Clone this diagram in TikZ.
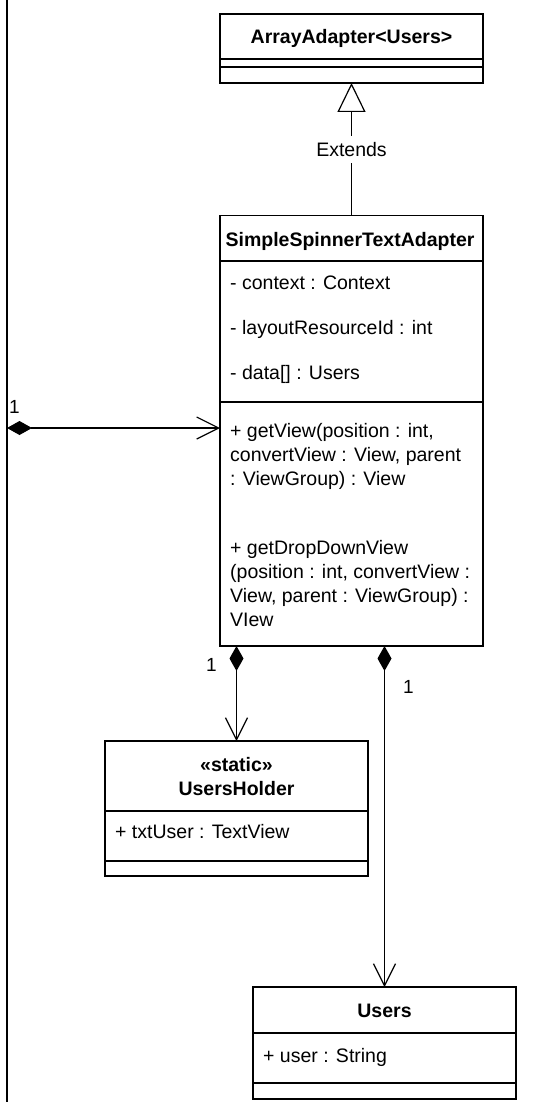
\documentclass[tikz,border=0pt]{standalone}
\usepackage{fontspec}
\setmainfont{Liberation Sans}
\usetikzlibrary{arrows.meta}
\begin{document}
\begin{tikzpicture}[x=1pt,y=-1pt,
  font=\fontsize{19.5}{24}\selectfont,
  classbox/.style={draw, line width=1.5pt, rectangle, inner sep=0pt, outer sep=0pt, anchor=north west},
  sep/.style={line width=1.5pt},
  title/.style={font=\fontsize{19.5}{24}\selectfont\bfseries, anchor=base, inner sep=0pt},
  member/.style={anchor=base west, inner sep=0pt},
  mult/.style={inner sep=0pt, font=\fontsize{19}{23}\selectfont},
  link/.style={line width=1.2pt},
  composite/.style={link, {Diamond[length=25pt,width=14pt]}-{Straight Barb[length=22pt,width=22pt,line width=1.2pt]}},
  extends/.style={link, -{Triangle[open,length=29pt,width=28pt,line width=1.2pt,fill=white]}},
]
\useasboundingbox (0,0) rectangle (549,1102);

% outer frame edge on the left
\draw[line width=1.6pt] (7,0) -- (7,1102);

% ArrayAdapter<Users>
\node[classbox, minimum width=263pt, minimum height=69pt] (aa) at (220,14) {};
\draw[sep] (220,59) -- (483,59);
\draw[sep] (220,67) -- (483,67);
\node[title] (aaT) at (351.5,44) {ArrayAdapter<Users>};

% SimpleSpinnerTextAdapter
\node[classbox, minimum width=263pt, minimum height=430.3pt] (ss) at (220,215.7) {};
\draw[sep] (220,261) -- (483,261);
\draw[sep] (220,402) -- (483,402);
\node[title] (ssT) at (350,246) {SimpleSpinnerTextAdapter};
\node[member] (ssA1) at (230,289) {- context : Context};
\node[member] (ssA2) at (230,334) {- layoutResourceId : int};
\node[member] (ssA3) at (230,379) {- data[] : Users};
\node[member] (ssM1a) at (230,437) {+ getView(position : int,};
\node[member] (ssM1b) at (230,461) {convertView : View, parent};
\node[member] (ssM1c) at (230,485) {: ViewGroup) : View};
\node[member] (ssM2a) at (230,554) {+ getDropDownView};
\node[member] (ssM2b) at (230,578) {(position : int, convertView :};
\node[member] (ssM2c) at (230,602) {View, parent : ViewGroup) :};
\node[member] (ssM2d) at (230,626) {VIew};

% UsersHolder
\node[classbox, minimum width=263pt, minimum height=135pt] (uh) at (105,741) {};
\draw[sep] (105,811) -- (368,811);
\draw[sep] (105,861) -- (368,861);
\node[title] (uhS) at (236.5,771) {«static»};
\node[title] (uhT) at (236.5,795) {UsersHolder};
\node[member] (uhA1) at (115,838) {+ txtUser : TextView};

% Users
\node[classbox, minimum width=263pt, minimum height=112pt] (us) at (253,987) {};
\draw[sep] (253,1033) -- (516,1033);
\draw[sep] (253,1083) -- (516,1083);
\node[title] (usT) at (384.5,1017) {Users};
\node[member] (usA1) at (263,1062) {+ user : String};

% generalization
\draw[extends] (ss.north) -- node[fill=white, inner xsep=1pt, inner ysep=6pt] (ext) {Extends} (aa.south);

% compositions
\coordinate (lf) at (7,428);
\draw[composite] (lf) -- (lf -| ss.west);
\node[mult] (m1) at (14.5,407) {1};

\draw[composite] (uh.north |- ss.south) -- (uh.north);
\node[mult] (m2) at (211.5,665) {1};

\draw[composite] (us.north |- ss.south) -- (us.north);
\node[mult] (m3) at (408.5,687) {1};
\end{tikzpicture}
\end{document}
